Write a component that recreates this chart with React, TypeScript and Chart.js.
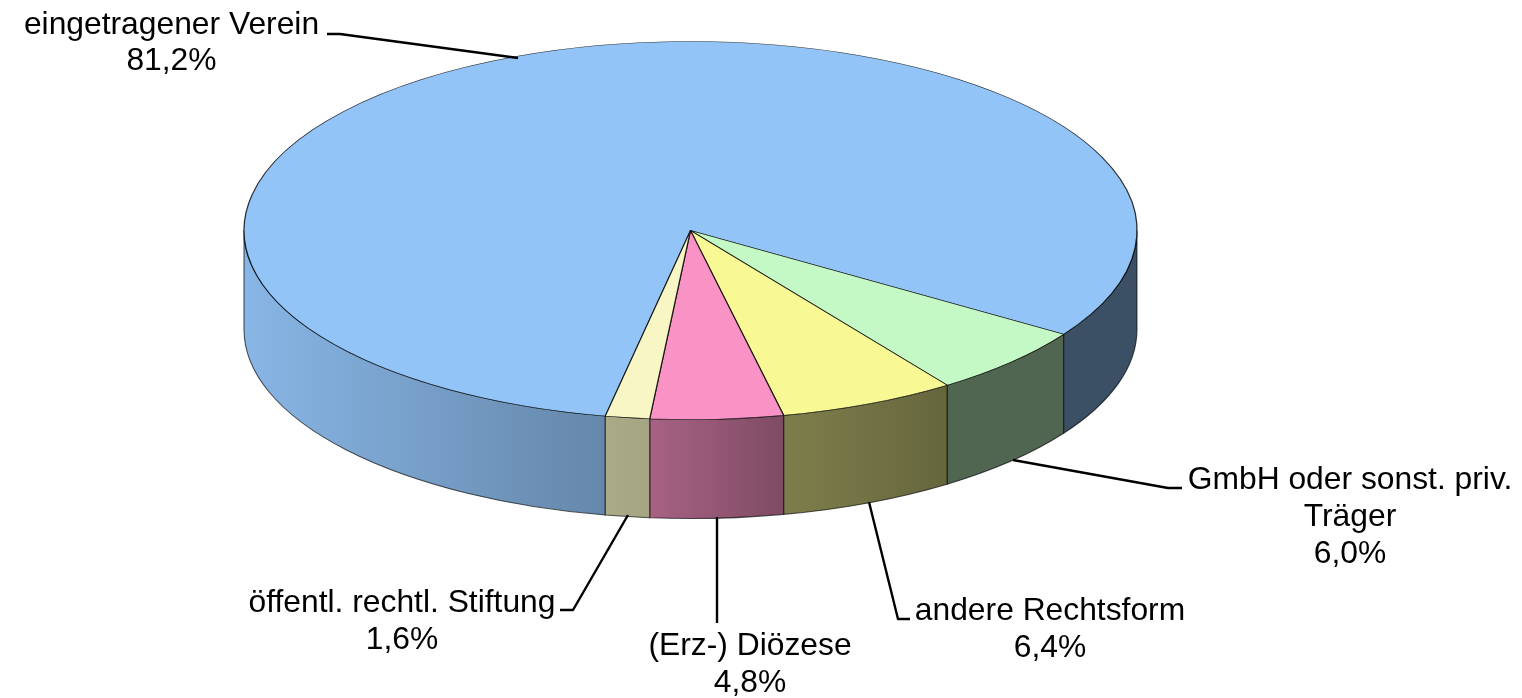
import React, { useEffect, useRef } from "react";
import { Chart, registerables } from "chart.js";

Chart.register(...registerables);

const categories = ["eingetragener Verein", "GmbH oder sonst. priv. Träger", "andere Rechtsform", "(Erz-) Diözese", "öffentl. rechtl. Stiftung"];
const values = [81.2, 6.0, 6.4, 4.8, 1.6];
const percentLabels = ["81,2%", "6,0%", "6,4%", "4,8%", "1,6%"];
const topColors = ["#92c4f7", "#c4f8c4", "#f8f895", "#f993c5", "#f8f6c4"];

const CX = 690.5, CY = 230.5, RX = 446.5, RY = 189, DEPTH = 99;
const FONT = '31.8px "Liberation Sans"';
const LINE_H = 37;

const shadeStops: [number, number][] = [[243, 0.93], [605, 0.69], [650, 0.67], [783, 0.51], [947, 0.41], [1137, 0.41]];

const labelLayout = [
  { lines: ["eingetragener Verein", percentLabels[0]], x: 171.5, y: 33.5, lh: 36, leader: [[518, 58], [340, 34], [327, 34]] },
  { lines: ["GmbH oder sonst. priv.", "Träger", percentLabels[1]], x: 1350, y: 489, lh: LINE_H, leader: [[1013, 460], [1168, 488], [1182, 488]] },
  { lines: ["andere Rechtsform", percentLabels[2]], x: 1050, y: 620, lh: LINE_H, leader: [[869, 502], [898, 619], [910, 619]] },
  { lines: ["(Erz-) Diözese", percentLabels[3]], x: 750, y: 655, lh: LINE_H, leader: [[717, 517], [717, 623]] },
  { lines: ["öffentl. rechtl. Stiftung", percentLabels[4]], x: 402, y: 612, lh: LINE_H, leader: [[628, 515], [573, 610], [560, 610]] },
];

function shade(hex: string, f: number) {
  const n = parseInt(hex.slice(1), 16);
  const c = [(n >> 16) & 255, (n >> 8) & 255, n & 255].map((v) => Math.round(v * f));
  return `rgb(${c[0]},${c[1]},${c[2]})`;
}

const pie3d = {
  id: "pie3d",
  beforeDatasetsDraw(chart: any) {
    const { ctx } = chart;
    const TAU = Math.PI * 2;
    chart.getDatasetMeta(0).data.forEach((arc: any, i: number) => {
      const { startAngle, endAngle, x, y, outerRadius } = arc.getProps(["startAngle", "endAngle", "x", "y", "outerRadius"], true);
      const ry = outerRadius * (RY / RX);
      const base = Math.floor(startAngle / TAU) - 1;
      for (let k = base; k < base + 4; k++) {
        const s = Math.max(startAngle, k * TAU);
        const e = Math.min(endAngle, k * TAU + Math.PI);
        if (e <= s) continue;
        const g = ctx.createLinearGradient(shadeStops[0][0], 0, shadeStops[shadeStops.length - 1][0], 0);
        const span = shadeStops[shadeStops.length - 1][0] - shadeStops[0][0];
        shadeStops.forEach(([px, f]) => g.addColorStop((px - shadeStops[0][0]) / span, shade(topColors[i], f)));
        ctx.beginPath();
        ctx.ellipse(x, y, outerRadius, ry, 0, s, e);
        ctx.ellipse(x, y + DEPTH, outerRadius, ry, 0, e, s, true);
        ctx.closePath();
        ctx.fillStyle = g;
        ctx.fill();
        ctx.strokeStyle = "rgba(0,0,0,0.65)";
        ctx.lineWidth = 1.1;
        ctx.stroke();
      }
    });
    ctx.save();
    ctx.translate(CX, CY);
    ctx.scale(1, RY / RX);
    ctx.translate(-CX, -CY);
  },
  afterDatasetsDraw(chart: any) {
    const { ctx } = chart;
    ctx.restore();
    ctx.fillStyle = "#000";
    ctx.strokeStyle = "#000";
    ctx.lineWidth = 2.4;
    ctx.lineJoin = "round";
    ctx.font = FONT;
    ctx.textAlign = "center";
    ctx.textBaseline = "alphabetic";
    labelLayout.forEach((l) => {
      ctx.beginPath();
      l.leader.forEach(([px, py], j) => (j ? ctx.lineTo(px, py) : ctx.moveTo(px, py)));
      ctx.stroke();
      l.lines.forEach((t, j) => ctx.fillText(t, l.x, l.y + j * l.lh));
    });
  },
};

export default function App() {
  const ref = useRef<HTMLCanvasElement>(null);
  useEffect(() => {
    document.body.style.margin = "0";
    const chart = new Chart(ref.current!, {
      type: "pie",
      data: {
        labels: categories,
        datasets: [{ data: values, backgroundColor: topColors, borderColor: "rgba(0,0,0,0.8)", borderWidth: 1.3, clip: false } as any],
      },
      options: {
        responsive: false,
        animation: false,
        radius: RX,
        rotation: 191,
        layout: { padding: { left: 0, top: 0, right: 1522 - 2 * CX, bottom: 698 - 2 * CY } },
        plugins: { legend: { display: false }, tooltip: { enabled: false } },
      } as any,
      plugins: [pie3d],
    });
    return () => chart.destroy();
  }, []);
  return <canvas ref={ref} width={1522} height={698} style={{ display: "block" }} />;
}
